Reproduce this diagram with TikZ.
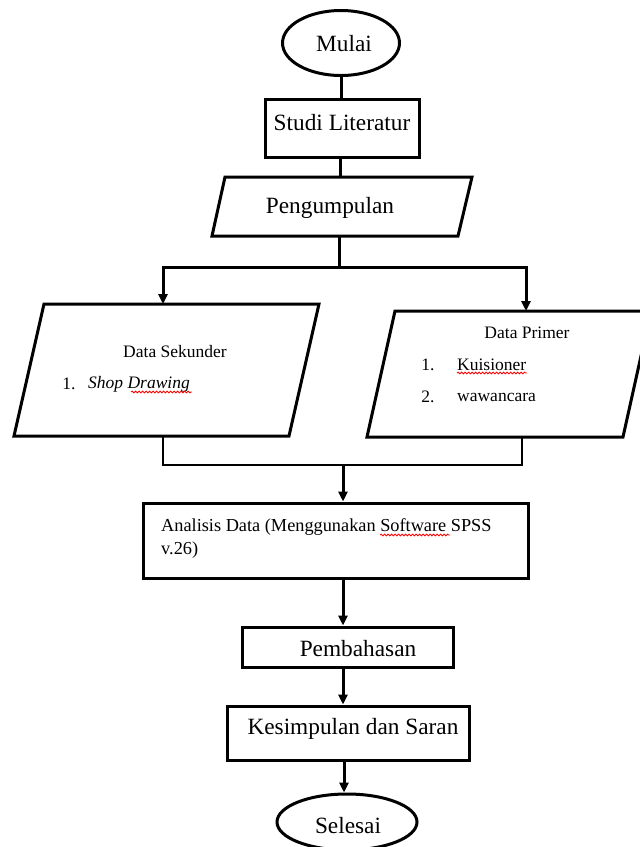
\documentclass[tikz,border=0pt]{standalone}
\usepackage{fontspec}
\setmainfont{Liberation Serif}
\usetikzlibrary{arrows.meta,shapes.geometric,decorations.pathmorphing}
\begin{document}
\begin{tikzpicture}[x=1pt,y=-1pt,
  thickline/.style={line width=3pt},
  thinline/.style={line width=1.2pt},
  arr/.style={line width=3pt,-{Triangle[length=10pt,width=9pt]}},
  box/.style={draw,line width=3pt,inner sep=0pt,rectangle},
  oval/.style={draw,line width=3pt,inner sep=0pt,ellipse},
  bigtext/.style={inner sep=0pt,font=\fontsize{23.3}{28}\selectfont},
  smalltext/.style={inner sep=0pt,font=\fontsize{17.5}{21}\selectfont},
  midtext/.style={inner sep=0pt,font=\fontsize{18.3}{23}\selectfont,anchor=west},
  squiggle/.style={draw=red,line width=0.8pt,decorate,decoration={snake,amplitude=0.9pt,segment length=3.5pt}}]
\useasboundingbox (0,0) rectangle (640,847);
\clip (0,0) rectangle (640,847);
\fill[white] (0,0) rectangle (640,847);

% column for vertical arrows
\coordinate (axis) at (343,0);

% Mulai
\node[oval,minimum width=117pt,minimum height=65pt] (mulai) at (341,43) {};
\node[bigtext] (mulaitxt) at (344,44) {Mulai};

% Studi Literatur
\node[box,minimum width=154pt,minimum height=58pt] (studi) at (342,128) {};
\node[bigtext] (studitxt) at (342,123) {Studi Literatur};

% Pengumpulan parallelogram
\coordinate (pg1) at (225,177);
\coordinate (pg2) at (472,177);
\coordinate (pg3) at (458,236);
\coordinate (pg4) at (212,236);
\coordinate (pgtop) at (340,177);
\coordinate (pgbot) at (339,236);
\draw[thickline,line join=miter] (pg1) -- (pg2) -- (pg3) -- (pg4) -- cycle;
\node[bigtext] (pgtxt) at (330,208) {Pengumpulan};

% Data Sekunder parallelogram
\coordinate (sk1) at (44,304);
\coordinate (sk2) at (319,304);
\coordinate (sk3) at (289,436);
\coordinate (sk4) at (14,436);
\coordinate (sktop) at (163,304);
\coordinate (skbot) at (163,436);
\draw[thickline] (sk1) -- (sk2) -- (sk3) -- (sk4) -- cycle;
\node[smalltext] (sktitle) at (175,352) {Data Sekunder};
\node[smalltext] (sk1num) at (69,384) {1.};
\node[smalltext,anchor=west] (skitem) at (88,384) {\itshape Shop Drawing};

% Data Primer parallelogram
\coordinate (pr1) at (395,311);
\coordinate (pr2) at (651,311);
\coordinate (pr3) at (623,437);
\coordinate (pr4) at (367,437);
\coordinate (prtop) at (526,311);
\coordinate (prbot) at (522,437);
\draw[thickline] (pr1) -- (pr2) -- (pr3) -- (pr4) -- cycle;
\node[smalltext] (prtitle) at (527,333) {Data Primer};
\node[smalltext] (pr1num) at (428,365) {1.};
\node[smalltext,anchor=west] (pritem1) at (457,365) {Kuisioner};
\node[smalltext] (pr2num) at (428,397) {2.};
\node[smalltext,anchor=west] (pritem2) at (457,397) {wawancara};

% Analisis
\node[box,minimum width=385pt,minimum height=75pt] (analisis) at (335.5,540.5) {};
\node[midtext] (antxt1) at (161,527) {Analisis Data (Menggunakan Software SPSS};
\node[midtext] (antxt2) at (161,550) {v.26)};

% Pembahasan
\node[box,minimum width=211pt,minimum height=40pt] (pembahasan) at (347.5,647) {};
\node[bigtext] (pbtxt) at (358,649) {Pembahasan};

% Kesimpulan
\node[box,minimum width=242pt,minimum height=54pt] (kesimpulan) at (348,733) {};
\node[bigtext] (kstxt) at (353,729) {Kesimpulan dan Saran};

% Selesai
\node[oval,minimum width=140pt,minimum height=56pt] (selesai) at (347,822) {};
\node[bigtext] (sltxt) at (348,826) {Selesai};

% spell-check squiggles
\draw[squiggle] (131,392) -- (192,392);
\draw[squiggle] (457,373) -- (527,373);
\draw[squiggle] (380,535) -- (450,535);

% connectors
\draw[thickline] (mulai.south) -- (mulai.south |- studi.north);
\draw[thickline] (studi.south -| pgtop) -- (pgtop);
\coordinate (split) at (339,267);
\draw[thickline] (pgbot) -- (split);
\draw[arr] (split) -| (sktop);
\draw[arr] (split) -| (prtop);
\coordinate (join) at (343,465);
\draw[thinline] (skbot) |- (join) -| (prbot);
\draw[arr] (join) -- (join |- analisis.north);
\draw[arr] (analisis.south -| axis) -- (pembahasan.north -| axis);
\draw[arr] (pembahasan.south -| axis) -- (kesimpulan.north -| axis);
\draw[arr] ([xshift=1pt]kesimpulan.south -| axis) -- ([xshift=1pt]selesai.north -| axis);
\end{tikzpicture}
\end{document}
